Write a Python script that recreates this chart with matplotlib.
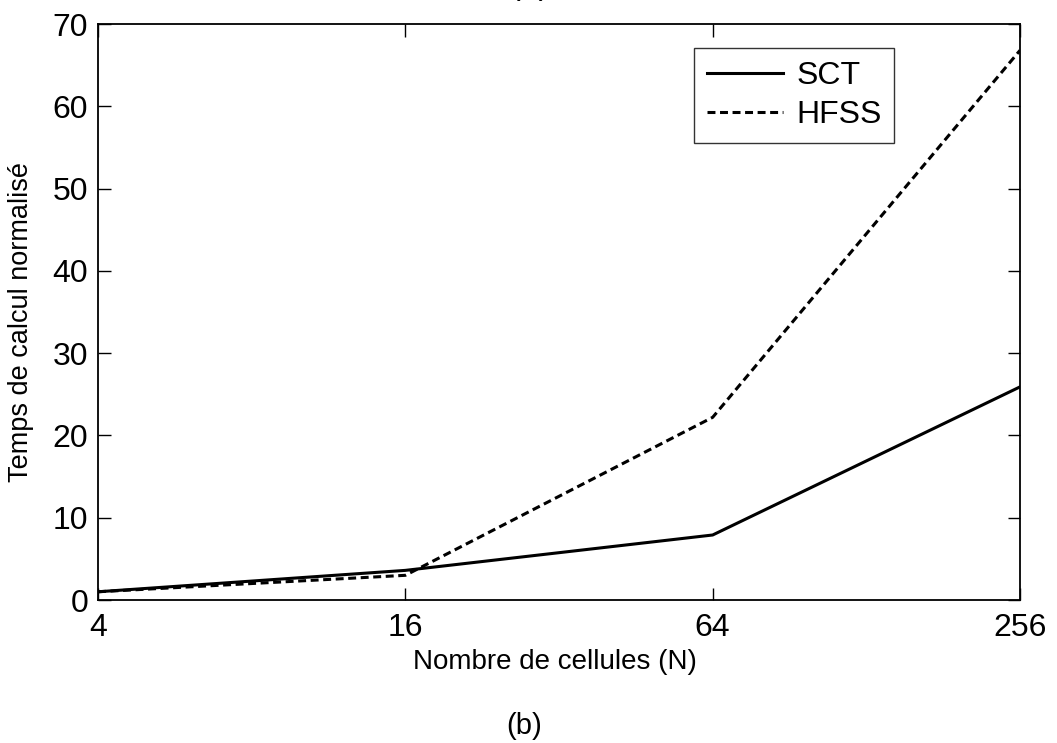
import matplotlib
matplotlib.use("Agg")
import matplotlib.pyplot as plt
from matplotlib.ticker import FixedLocator, FixedFormatter, NullLocator

plt.rcParams['font.family'] = ['Liberation Sans', 'DejaVu Sans']

cells = [4, 16, 64, 256]
tick_labels = ['4', '16', '64', '256']
sct = [1.0, 3.6, 7.9, 25.9]
hfss = [1.0, 3.0, 22.2, 66.8]

fig = plt.figure(figsize=(10.57, 7.43), dpi=100)
ax = fig.add_axes([98/1057, 1-600/743, (1020-98)/1057, (600-24)/743])

ax.plot(cells, sct, color='black', lw=2.2, label='SCT')
ax.plot(cells, hfss, color='black', lw=2.2, linestyle=(0, (2.6, 1.5)), label='HFSS')

ax.set_xscale('log', base=2)
ax.set_xlim(4, 256)
ax.set_ylim(0, 70)
ax.xaxis.set_major_locator(FixedLocator(cells))
ax.xaxis.set_major_formatter(FixedFormatter(tick_labels))
ax.xaxis.set_minor_locator(NullLocator())
ax.set_yticks(range(0, 71, 10))

ax.tick_params(axis='both', which='both', direction='in', length=9, width=1,
               top=True, right=True, labelsize=23)
ax.tick_params(axis='x', pad=9)
ax.tick_params(axis='y', pad=7)
for s in ax.spines.values():
    s.set_linewidth(1.3)

ax.set_xlabel('Nombre de cellules (N)', fontsize=20)
ax.set_ylabel('Temps de calcul normalisé', fontsize=19.5)
ax.xaxis.set_label_coords((555-98)/922, -(662-600)/576)
ax.yaxis.set_label_coords(-(98-21)/922, (600-322)/576)
ax.xaxis.label.set_va('center')
ax.yaxis.label.set_va('center')

leg = ax.legend(loc='upper left', bbox_to_anchor=((694-98)/922, 1-(48-24)/576),
                fontsize=23, frameon=True, fancybox=False, edgecolor='black',
                handlelength=2.4, handletextpad=0.4, borderpad=0.4, labelspacing=0.3,
                borderaxespad=0)
leg.get_frame().set_linewidth(1.0)

fig.text(524/1057, 1-726/743, '(b)', fontsize=21, ha='center', va='center')
fig.text(530/1057, 1.0 + 14/743, '(a)', fontsize=23, ha='center', va='center')

fig.savefig('out.png', dpi=100)
